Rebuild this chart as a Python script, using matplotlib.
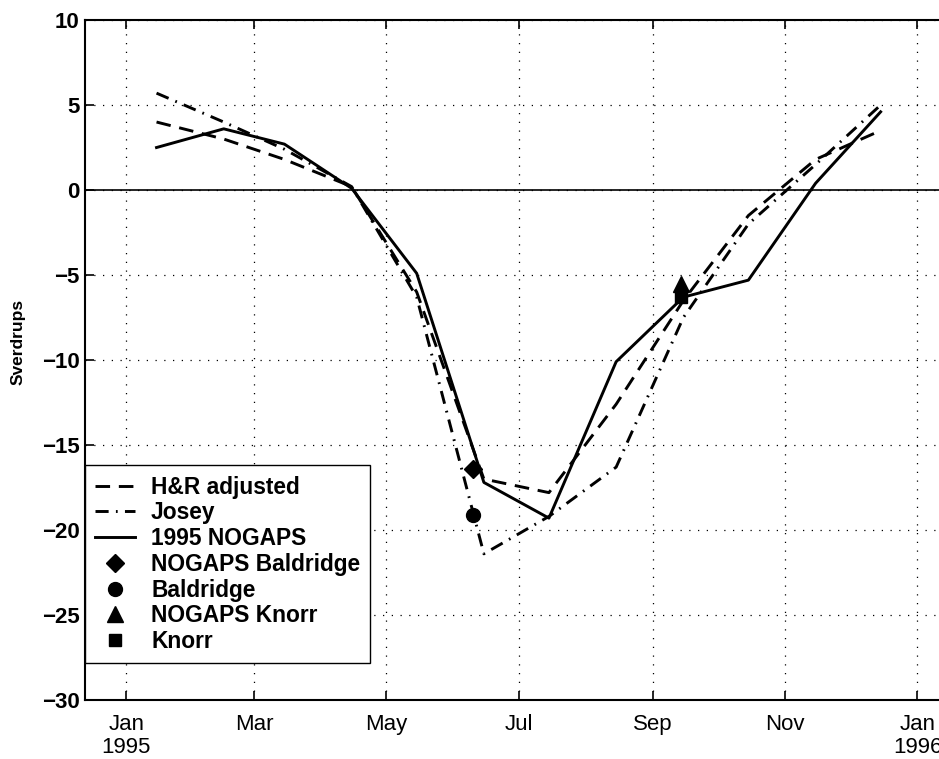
import matplotlib
matplotlib.use('Agg')
import matplotlib.pyplot as plt
from datetime import datetime, timedelta

plt.rcParams['font.family'] = ['Liberation Sans', 'DejaVu Sans']

# monthly values, 1995 (mid-month)
months = [datetime(1995, m, 15) for m in range(1, 13)]
hr_adjusted = [4.0, 3.0, 1.8, 0.2, -6.0, -17.0, -17.8, -12.6, -6.5, -1.5, 1.8, 3.5]
josey = [5.7, 4.0, 2.4, 0.2, -6.3, -21.4, -19.2, -16.3, -7.5, -2.0, 1.5, 5.0]
nogaps = [2.5, 3.6, 2.7, 0.1, -4.9, -17.2, -19.3, -10.1, -6.3, -5.3, 0.4, 4.6]

# cruise estimates
baldridge_date = datetime(1995, 6, 10)
nogaps_baldridge = -16.4
baldridge = -19.1
knorr_date = datetime(1995, 9, 14)
nogaps_knorr = -5.5
knorr = -6.3

tick_dates = [datetime(1995, 1, 1), datetime(1995, 3, 1), datetime(1995, 5, 1),
              datetime(1995, 7, 1), datetime(1995, 9, 1), datetime(1995, 11, 1),
              datetime(1996, 1, 1)]
tick_labels = ['Jan\n1995', 'Mar', 'May', 'Jul', 'Sep', 'Nov', 'Jan\n1996']
y_ticks = [-30, -25, -20, -15, -10, -5, 0, 5, 10]

fig = plt.figure(figsize=(9.39, 7.59), dpi=100)
ax = fig.add_axes([0.0905, 0.0777, 0.912, 0.8959])

lw = 2.1
ax.plot(months, hr_adjusted, color='black', lw=lw, linestyle=(0, (5, 3)), label='H&R adjusted')
ax.plot(months, josey, color='black', lw=lw, linestyle=(0, (4.5, 2.5, 0.6, 2.5)), label='Josey')
ax.plot(months, nogaps, color='black', lw=lw, linestyle='-', label='1995 NOGAPS')
ax.plot([baldridge_date], [nogaps_baldridge], 'D', color='black', ms=9, linestyle='none',
        label='NOGAPS Baldridge')
ax.plot([baldridge_date], [baldridge], 'o', color='black', ms=10, linestyle='none', label='Baldridge')
ax.plot([knorr_date], [nogaps_knorr], '^', color='black', ms=11, linestyle='none', label='NOGAPS Knorr')
ax.plot([knorr_date], [knorr], 's', color='black', ms=9, linestyle='none', label='Knorr')

ax.axhline(0, color='black', lw=1.2, zorder=1)

ax.set_xlim(datetime(1995, 1, 1) - timedelta(days=19), datetime(1995, 1, 1) + timedelta(days=376))
ax.set_ylim(-30, 10)
ax.set_xticks(tick_dates)
ax.set_xticklabels(tick_labels, fontsize=16, linespacing=1.15)
ax.set_yticks(y_ticks)
ax.set_yticklabels([str(v).replace('-', '\u2212') for v in y_ticks], fontsize=16, fontweight='bold')

ax.grid(True, color='black', linestyle=(0, (1, 6)), lw=0.9)
ax.tick_params(direction='in', length=6.5, width=1.2, top=True, right=False)
ax.tick_params(axis='x', pad=10)
ax.tick_params(axis='y', pad=4)
for s in ax.spines.values():
    s.set_linewidth(1.5)
ax.spines['right'].set_visible(False)

ax.set_ylabel('Sverdrups', fontsize=12.5, fontweight='bold')
ax.yaxis.set_label_coords(-0.069, 0.526)

leg = ax.legend(loc='lower left', bbox_to_anchor=(0, 0.054), borderaxespad=0,
                fancybox=False, edgecolor='black', framealpha=1,
                prop={'weight': 'bold', 'size': 16.4}, handlelength=1.75,
                labelspacing=0.12, borderpad=0.45, handletextpad=0.7)
leg.get_frame().set_linewidth(1.0)

fig.savefig('out.png', dpi=100)
plt.close()
